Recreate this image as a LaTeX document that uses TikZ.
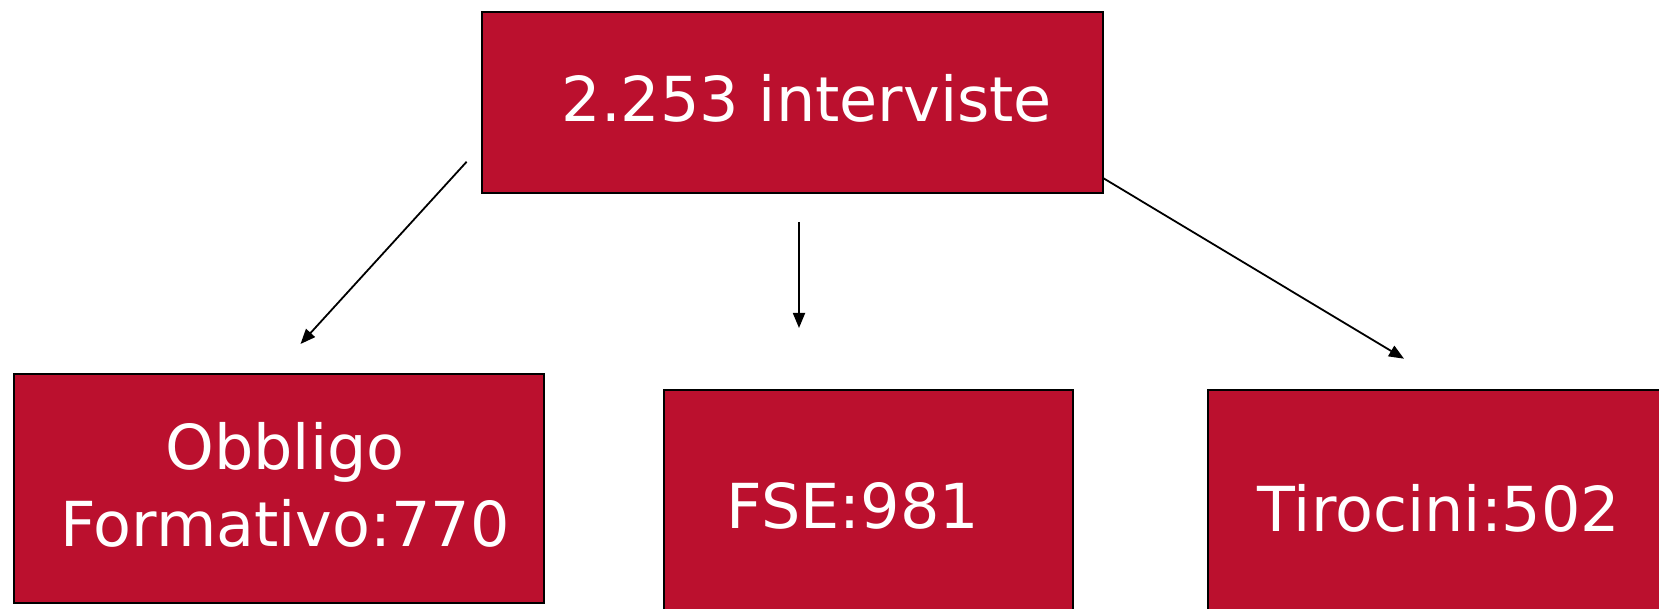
\documentclass[tikz,border=0pt]{standalone}
\usepackage{fontspec}
\setmainfont{DejaVu Sans}
\usetikzlibrary{arrows.meta}
\definecolor{boxred}{RGB}{187,16,46}
\begin{document}
\begin{tikzpicture}[x=1pt,y=-1pt,
  box/.style={draw=black,line width=2pt,fill=boxred,inner sep=0pt,anchor=north west},
  txt/.style={text=white,font=\fontsize{62}{77.5}\selectfont,anchor=base,inner sep=0pt,align=center},
  conn/.style={draw=black,line width=1.8pt,-{Triangle[length=15pt,width=12pt]}}]
\useasboundingbox (0,0) rectangle (1659,609);
% boxes
\node[box,minimum width=621pt,minimum height=181pt] (top) at (481,11) {};
\node[box,minimum width=530pt,minimum height=229pt] (left) at (13,373) {};
\node[box,minimum width=409pt,minimum height=240pt] (mid) at (663,389) {};
\node[box,minimum width=470pt,minimum height=240pt] (right) at (1207,389) {};
% texts
\node[txt] (ttop) at (807,121.6) {2.253 interviste};
\node[txt,anchor=base] (tleft1) at (285,469) {Obbligo};
\node[txt,anchor=base] (tleft2) at (285,546.5) {Formativo:770};
\node[txt] (tmid) at (853,528.5) {FSE:981};
\node[txt] (tright) at (1439,531) {Tirocini:502};
% connector ends
\coordinate (s1) at (466.6,161.8);
\coordinate (e1) at (300.5,344);
\coordinate (s2) at (799,222);
\coordinate (e2) at (799,328);
\coordinate (s3) at (1102.5,177.7);
\coordinate (e3) at (1404,358.7);
\draw[conn] (s1) -- (e1);
\draw[conn] (s2) -- (e2);
\draw[conn] (s3) -- (e3);
\end{tikzpicture}
\end{document}
